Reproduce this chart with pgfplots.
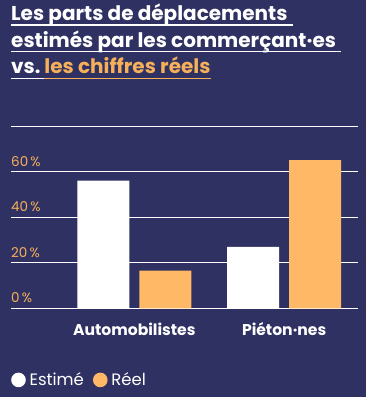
\documentclass[border=0pt]{standalone}
\usepackage{pgfplots}
\pgfplotsset{compat=1.18}
\usepackage{fontspec}
\setmainfont{Poppins}
\definecolor{bg}{RGB}{47,49,98}
\definecolor{orng}{RGB}{255,184,102}
\definecolor{torng}{RGB}{247,176,90}
\begin{document}
\begin{tikzpicture}
\path[use as bounding box] (0pt,0pt) rectangle (366pt,397pt);
\fill[bg] (0pt,0pt) rectangle (366pt,397pt);
% title
\node[anchor=base west, inner sep=0pt, text=white, font=\bfseries\fontsize{20}{24}\selectfont] (t1) at (11pt,376.3pt) {Les parts de déplacements};
\draw[white, line width=1.3pt] ([yshift=-4.3pt]t1.base west) -- ([yshift=-4.3pt,xshift=5pt]t1.base east);
\node[anchor=base west, inner sep=0pt, text=white, font=\bfseries\fontsize{20}{24}\selectfont] (t2) at (11pt,349.7pt) {estimés par les commerçant·es};
\draw[white, line width=1.3pt] ([yshift=-4.3pt]t2.base west) -- ([yshift=-4.3pt,xshift=5pt]t2.base east);
\node[anchor=base west, inner sep=0pt, text=white, font=\bfseries\fontsize{20}{24}\selectfont] (v) at (11pt,323pt) {vs.};
\node[anchor=base west, inner sep=0pt, text=torng, font=\bfseries\fontsize{20}{24}\selectfont] (c) at ([xshift=3.5pt]v.base east) {les chiffres réels};
\draw[white, line width=1.3pt] ([yshift=-4.3pt]v.base west) -- ([yshift=-4.3pt]c.base west);
\draw[torng, line width=1.3pt] ([yshift=-4.3pt]c.base west) -- ([yshift=-4.3pt]c.base east);
\begin{axis}[
  at={(11pt,88.7pt)}, anchor=south west,
  scale only axis, width=347pt, height=182.3pt,
  xmin=-0.823, xmax=1.493, ymin=0, ymax=80,
  ybar=10pt, bar width=52pt,
  axis line style={draw=none},
  major tick length=0pt,
  xtick={0,1}, xticklabels={Automobilistes, Piéton·nes},
  ytick={0,20,40,60,80}, yticklabels={0\,\%,20\,\%,40\,\%,60\,\%,{}},
  ymajorgrids, grid style={white, line width=1pt},
  xticklabel style={anchor=base, yshift=-27pt, text=white, font=\bfseries\fontsize{15.6}{18}\selectfont},
  yticklabel style={anchor=base west, inner sep=0pt, yshift=5.5pt, text=torng, font=\fontsize{13.5}{15}\selectfont},
  legend style={at={(0,-0.393)}, anchor=west, draw=none, fill=none, legend columns=-1,
    text=white, font=\fontsize{16.5}{18}\selectfont, inner sep=0pt,
    /tikz/every odd column/.append style={column sep=1.8pt},
    /tikz/every even column/.append style={column sep=7pt}},
  legend cell align=left,
]
\addplot[fill=white, draw=none, legend image code/.code={\fill[white] (7.3pt,0pt) circle (7.3pt);}] coordinates {(0,56) (1,27)};
\addplot[fill=orng, draw=none, legend image code/.code={\fill[orng] (7.3pt,0pt) circle (7.3pt);}] coordinates {(0,16.5) (1,65)};
\legend{Estimé, Réel}
\end{axis}
\end{tikzpicture}
\end{document}
